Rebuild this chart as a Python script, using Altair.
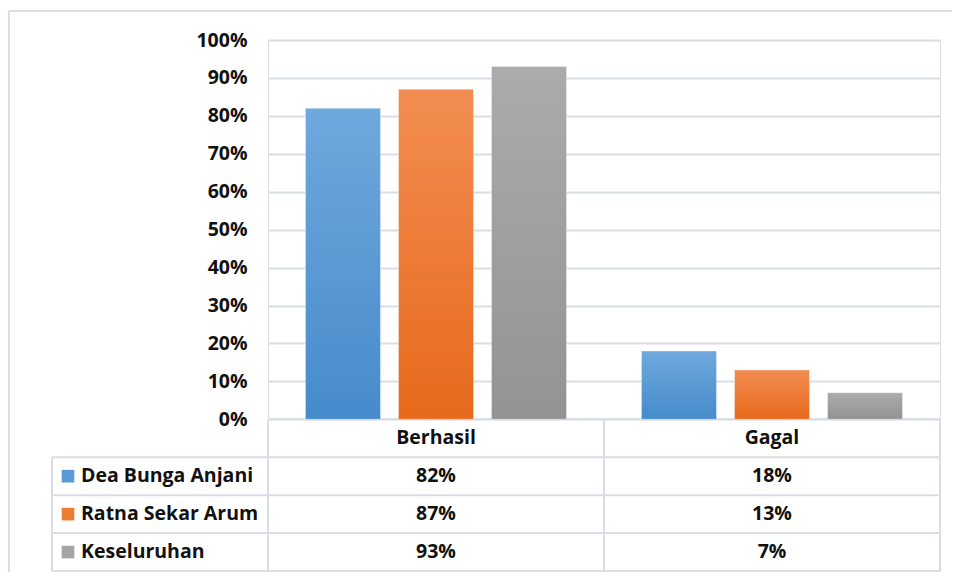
import altair as alt
import pandas as pd

# ---------------- data ----------------
categories = ["Berhasil", "Gagal"]
series = ["Dea Bunga Anjani", "Ratna Sekar Arum", "Keseluruhan"]
dea_values = [82, 18]
ratna_values = [87, 13]
keseluruhan_values = [93, 7]
y_ticks = [0, 10, 20, 30, 40, 50, 60, 70, 80, 90, 100]

series_values = [dea_values, ratna_values, keseluruhan_values]

# ---------------- styles ----------------
FONT = "Open Sans"
FSIZE = 19.5
TEXT_COLOR = "#111111"
LINE_COLOR = "#d9dee6"
grad_top = ["#6fa8dd", "#f28d52", "#ababab"]
grad_bottom = ["#468bcb", "#e7691b", "#939393"]
solid = ["#5b9bd5", "#ed7d31", "#a5a5a5"]

W, H = 672, 531
ROW = 10                      # table row height in y units (%)
N_ROWS = len(series) + 1
LABEL_COL = 216 / 336         # width of label column in category widths

rows = []
for si, s in enumerate(series):
    for ci, c in enumerate(categories):
        rows.append({"category": c, "series": s, "value": series_values[si][ci],
                     "row": si + 1})
df = pd.DataFrame(rows)

y_scale = alt.Scale(domain=[-ROW * N_ROWS, 100], nice=False, zero=False)
x_band = alt.Scale(domain=categories, paddingInner=0, paddingOuter=0)
off_scale = alt.Scale(domain=series, paddingInner=0.1935, paddingOuter=0.403)

AXIS = alt.Axis(values=y_ticks, labelExpr="datum.value + '%'", title=None,
                ticks=False, domain=False, grid=True, gridColor=LINE_COLOR,
                gridWidth=2, labelFont=FONT, labelFontSize=FSIZE,
                labelFontWeight="bold", labelColor=TEXT_COLOR,
                labelPadding=21)

layers = []
for si, s in enumerate(series):
    grad = alt.Gradient(
        gradient="linear",
        stops=[alt.GradientStop(color=grad_top[si], offset=0),
               alt.GradientStop(color=grad_bottom[si], offset=1)],
        x1=0, x2=0, y1=0, y2=1,
    )
    layers.append(
        alt.Chart(df).transform_filter(alt.datum.series == s)
        .mark_bar(color=grad, stroke="#ffffff", strokeOpacity=0.35, strokeWidth=1)
        .encode(
            x=alt.X("category:N", scale=x_band, axis=None),
            xOffset=alt.XOffset("series:N", scale=off_scale),
            y=alt.Y("value:Q", scale=y_scale, axis=AXIS),
            y2=alt.datum(0),
        )
    )

# table lines (in category-width units horizontally, % units vertically)
lines = []
lines.append({"x": 0, "x2": len(categories), "y": 0, "y2": 0})
for r in range(1, N_ROWS + 1):
    lines.append({"x": -LABEL_COL, "x2": len(categories), "y": -ROW * r, "y2": -ROW * r})
for c in range(len(categories) + 1):
    lines.append({"x": c, "x2": c, "y": 0, "y2": -ROW * N_ROWS})
lines.append({"x": -LABEL_COL, "x2": -LABEL_COL, "y": -ROW, "y2": -ROW * N_ROWS})
lines_df = pd.DataFrame(lines)

x_lin = alt.Scale(domain=[0, len(categories)], nice=False, zero=False)
table_lines = alt.Chart(lines_df).mark_rule(color=LINE_COLOR, strokeWidth=2).encode(
    x=alt.X("x:Q", scale=x_lin, axis=None),
    x2="x2:Q",
    y=alt.Y("y:Q", scale=y_scale, axis=AXIS),
    y2="y2:Q",
)

text_style = dict(font=FONT, fontSize=FSIZE, fontWeight="bold", color=TEXT_COLOR,
                  baseline="middle")

header_df = pd.DataFrame({"category": categories})
header = alt.Chart(header_df).transform_calculate(
    ypos=f"{-ROW / 2}"
).mark_text(align="center", **text_style).encode(
    x=alt.X("category:N", scale=x_band, axis=None),
    y=alt.Y("ypos:Q", scale=y_scale, axis=AXIS),
    text="category:N",
)

cells = alt.Chart(df).transform_calculate(
    ypos=f"-(datum.row * {ROW} + {ROW / 2})",
    label="datum.value + '%'",
).mark_text(align="center", **text_style).encode(
    x=alt.X("category:N", scale=x_band, axis=None),
    y=alt.Y("ypos:Q", scale=y_scale, axis=AXIS),
    text="label:N",
)

series_df = pd.DataFrame({"series": series, "row": list(range(1, len(series) + 1))})
series_labels = alt.Chart(series_df).transform_calculate(
    ypos=f"-(datum.row * {ROW} + {ROW / 2})",
).mark_text(align="left", **text_style).encode(
    x=alt.value(-187),
    y=alt.Y("ypos:Q", scale=y_scale, axis=AXIS),
    text="series:N",
)

legend_squares = alt.Chart(series_df).transform_calculate(
    ypos=f"-(datum.row * {ROW} + {ROW / 2})",
).mark_square(size=160, opacity=1).encode(
    x=alt.value(-200),
    y=alt.Y("ypos:Q", scale=y_scale, axis=AXIS),
    color=alt.Color("series:N", scale=alt.Scale(domain=series, range=solid), legend=None),
)

# outer chart-area border (top and left edges)
border = alt.Chart(pd.DataFrame({"k": [0]})).mark_rule(color=LINE_COLOR, strokeWidth=2)
border_top = border.encode(x=alt.value(-259), x2=alt.value(700), y=alt.value(-29))
border_left = border.encode(x=alt.value(-259), y=alt.value(-29), y2=alt.value(545))

chart = alt.layer(
    border_top, border_left, table_lines, *layers, header, cells, series_labels, legend_squares
).resolve_scale(x="independent").properties(
    width=W, height=H,
    autosize=alt.AutoSizeParams(type="none"),
    padding={"left": 260, "top": 32, "right": 12, "bottom": 1},
).configure_view(strokeWidth=0, stroke="transparent").configure(background="white")

chart.save("out.html", embed_options={"renderer": "svg", "actions": False})
